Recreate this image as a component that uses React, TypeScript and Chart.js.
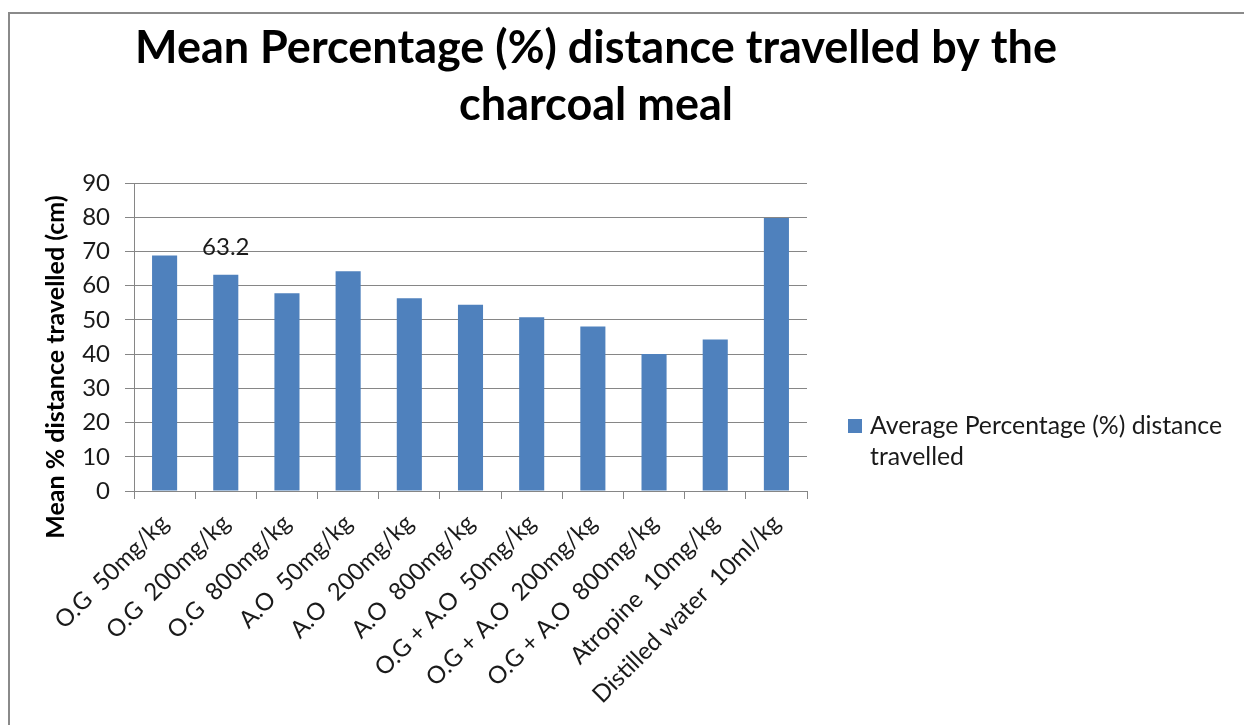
import React, { useEffect, useRef } from "react";
import { Chart, registerables } from "chart.js";

Chart.register(...registerables);

const categories = [
  "O.G  50mg/kg",
  "O.G  200mg/kg",
  "O.G  800mg/kg",
  "A.O  50mg/kg",
  "A.O  200mg/kg",
  "A.O  800mg/kg",
  "O.G + A.O  50mg/kg",
  "O.G + A.O  200mg/kg",
  "O.G + A.O  800mg/kg",
  "Atropine  10mg/kg",
  "Distilled water  10ml/kg",
];
const values = [68.8, 63.2, 57.8, 64.2, 56.3, 54.4, 50.8, 48.1, 40.0, 44.3, 79.8];
const seriesName = "Average Percentage (%) distance travelled";
const legendLines = ["Average Percentage (%) distance", "travelled"];
const titleLines = ["Mean Percentage (%) distance travelled by the", "charcoal meal"];
const yAxisTitle = "Mean % distance travelled (cm)";
const yMin = 0;
const yMax = 90;
const yStep = 10;
const labelledIndices = [1];

const FONT = "Lato, 'Open Sans', sans-serif";
const BAR = "#4f81bd";
const GRID = "#868686";

const textPlugin = {
  id: "textPlugin",
  afterDraw(chart: any) {
    const ctx = chart.ctx;
    ctx.save();
    ctx.fillStyle = "#000";
    // Title
    ctx.font = `bold 45px ${FONT}`;
    ctx.textAlign = "center";
    ctx.textBaseline = "alphabetic";
    ctx.fillText(titleLines[0], 586, 49);
    ctx.fillText(titleLines[1], 586, 106);
    // Y axis title
    ctx.save();
    ctx.translate(46, 353);
    ctx.rotate(-Math.PI / 2);
    ctx.font = `bold 25px ${FONT}`;
    ctx.textAlign = "center";
    ctx.textBaseline = "middle";
    ctx.fillText(yAxisTitle, 0, 0);
    ctx.restore();
    // Legend
    ctx.fillStyle = BAR;
    ctx.fillRect(838, 405, 14, 14);
    ctx.fillStyle = "#1a1a1a";
    ctx.font = `24.8px ${FONT}`;
    ctx.textAlign = "left";
    ctx.textBaseline = "alphabetic";
    ctx.fillText(legendLines[0], 860, 420);
    ctx.fillText(legendLines[1], 860, 451);
    // Data labels
    const meta = chart.getDatasetMeta(0);
    ctx.font = `24px ${FONT}`;
    ctx.textAlign = "center";
    ctx.textBaseline = "middle";
    labelledIndices.forEach((i) => {
      const el = meta.data[i];
      ctx.fillText(String(values[i]), el.x, el.y - 27);
    });
    ctx.restore();
  },
};

export default function App() {
  const ref = useRef<HTMLCanvasElement | null>(null);
  useEffect(() => {
    if (!ref.current) return;
    const chart = new Chart(ref.current, {
      type: "bar",
      data: {
        labels: categories,
        datasets: [
          {
            label: seriesName,
            data: values,
            backgroundColor: BAR,
            borderWidth: 0,
            barPercentage: 0.41,
            categoryPercentage: 1,
          },
        ],
      },
      options: {
        responsive: false,
        animation: false,
        layout: { padding: { top: 169, right: 437, left: 0, bottom: 0 } },
        plugins: {
          legend: { display: false },
          title: { display: false },
          tooltip: { enabled: false },
        },
        scales: {
          x: {
            offset: true,
            grid: {
              offset: true,
              drawOnChartArea: false,
              drawTicks: true,
              tickLength: 8,
              color: GRID,
            },
            border: { color: GRID, width: 1 },
            ticks: {
              maxRotation: 45,
              minRotation: 45,
              autoSkip: false,
              color: "#1a1a1a",
              font: { family: FONT, size: 24 },
              padding: 10,
            },
            afterFit: (s: any) => {
              s.height = 234;
            },
          },
          y: {
            min: yMin,
            max: yMax,
            ticks: {
              stepSize: yStep,
              color: "#1a1a1a",
              font: { family: FONT, size: 24 },
              padding: 15,
            },
            grid: { color: GRID, tickLength: 9, drawTicks: true },
            border: { color: GRID, width: 1 },
            afterFit: (s: any) => {
              s.width = 124;
            },
          },
        },
      },
      plugins: [textPlugin],
    });
    return () => chart.destroy();
  }, []);
  return (
    <div
      style={{
        position: "absolute",
        left: 8,
        top: 12,
        width: 1236,
        height: 713,
        borderLeft: "2px solid #8a8a8a",
        borderTop: "2px solid #8a8a8a",
        boxSizing: "border-box",
        background: "#fff",
        overflow: "hidden",
      }}
    >
      <canvas ref={ref} width={1234} height={711} style={{ display: "block" }} />
    </div>
  );
}
